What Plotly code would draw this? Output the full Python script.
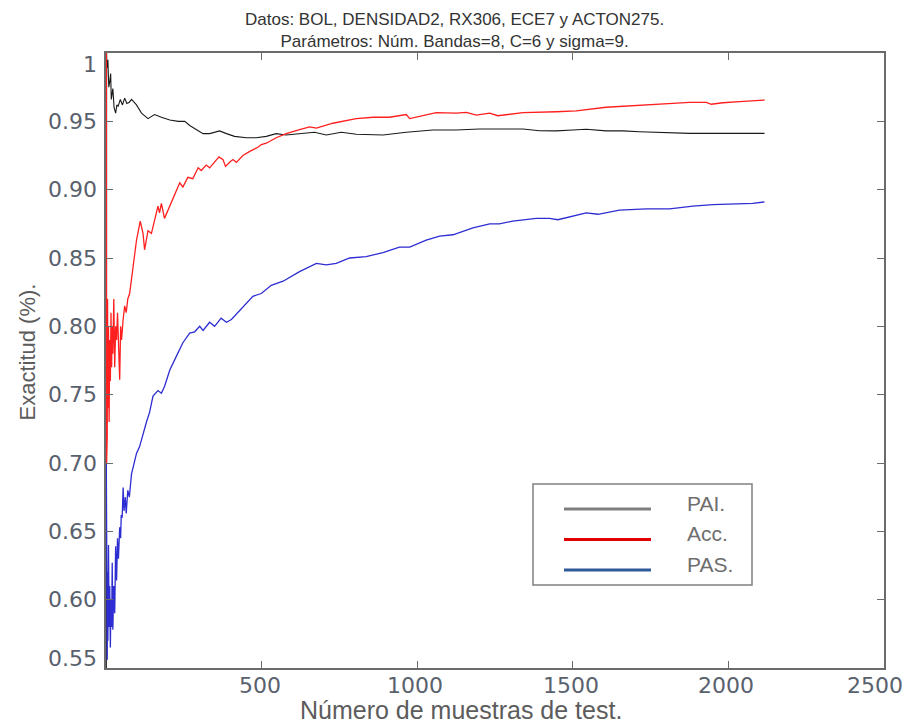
import plotly.graph_objects as go

# Running accuracy curves over the number of test samples
pai_points = [(1, 0.50), (2, 1.0), (3, 0.989), (6, 0.995), (9, 0.975), (12, 0.979), (15, 0.985),
              (17, 0.966), (22, 0.974), (26, 0.960), (31, 0.956), (35, 0.962), (39, 0.961),
              (46, 0.966), (53, 0.962), (60, 0.967), (67, 0.963), (75, 0.964), (82, 0.966),
              (98, 0.962), (114, 0.956), (135, 0.952), (156, 0.955), (178, 0.953), (205, 0.951),
              (232, 0.950), (253, 0.950), (269, 0.947), (290, 0.944), (312, 0.941), (333, 0.941),
              (365, 0.943), (387, 0.941), (413, 0.939), (451, 0.938), (483, 0.938), (515, 0.939),
              (547, 0.941), (579, 0.940), (622, 0.941), (670, 0.942), (708, 0.940), (756, 0.942),
              (804, 0.9405), (890, 0.940), (965, 0.942), (1050, 0.9437), (1125, 0.9437),
              (1200, 0.9444), (1275, 0.9444), (1340, 0.9444), (1393, 0.9431), (1447, 0.943),
              (1500, 0.9437), (1543, 0.9442), (1607, 0.943), (1661, 0.943), (1714, 0.9424),
              (1789, 0.9417), (1875, 0.9412), (1982, 0.9412), (2116, 0.9412)]

acc_points = [(1, 1.0), (2, 0.70), (3, 0.78), (4, 0.72), (5, 0.82), (6, 0.74), (8, 0.80), (10, 0.73),
              (12, 0.79), (14, 0.76), (16, 0.81), (18, 0.77), (20, 0.80), (22, 0.78), (25, 0.82),
              (28, 0.77), (31, 0.80), (34, 0.79), (37, 0.81), (40, 0.79), (44, 0.761), (47, 0.80),
              (50, 0.79), (55, 0.805), (60, 0.815), (65, 0.81), (70, 0.82), (76, 0.824), (82, 0.834),
              (87, 0.846), (98, 0.863), (110, 0.877), (119, 0.868), (124, 0.856), (135, 0.870),
              (146, 0.868), (156, 0.878), (167, 0.888), (172, 0.883), (178, 0.890), (188, 0.879),
              (205, 0.888), (221, 0.897), (237, 0.905), (247, 0.902), (263, 0.909), (279, 0.908),
              (296, 0.916), (306, 0.914), (322, 0.918), (333, 0.916), (349, 0.920), (363, 0.924),
              (376, 0.922), (384, 0.917), (397, 0.920), (408, 0.922), (419, 0.920), (440, 0.925),
              (462, 0.928), (488, 0.931), (499, 0.933), (515, 0.934), (547, 0.938), (579, 0.941),
              (622, 0.944), (654, 0.946), (676, 0.945), (729, 0.9486), (804, 0.952), (858, 0.953),
              (911, 0.953), (965, 0.955), (976, 0.952), (1061, 0.9563), (1125, 0.956),
              (1158, 0.9566), (1190, 0.9546), (1233, 0.956), (1259, 0.9541), (1340, 0.9563),
              (1447, 0.957), (1511, 0.9576), (1607, 0.9603), (1714, 0.962), (1821, 0.9632),
              (1875, 0.9639), (1929, 0.9639), (1945, 0.9625), (1982, 0.9636), (2036, 0.9644),
              (2116, 0.9656)]

pas_points = [(1, 0.70), (2, 0.60), (3, 0.66), (4, 0.556), (5, 0.62), (6, 0.57), (8, 0.64), (10, 0.58),
              (12, 0.61), (14, 0.565), (16, 0.60), (18, 0.58), (20, 0.627), (22, 0.578), (25, 0.61),
              (28, 0.59), (31, 0.639), (34, 0.614), (37, 0.645), (40, 0.63), (44, 0.653), (47, 0.645),
              (49, 0.662), (52, 0.66), (55, 0.682), (58, 0.665), (62, 0.675), (65, 0.663), (70, 0.68),
              (75, 0.675), (82, 0.692), (90, 0.70), (98, 0.707), (108, 0.712), (119, 0.722),
              (130, 0.730), (140, 0.737), (151, 0.749), (167, 0.753), (178, 0.751), (188, 0.756),
              (205, 0.768), (226, 0.778), (247, 0.788), (269, 0.795), (285, 0.796), (301, 0.800),
              (312, 0.797), (333, 0.803), (349, 0.800), (370, 0.806), (387, 0.803), (403, 0.805),
              (440, 0.814), (472, 0.822), (499, 0.824), (531, 0.830), (569, 0.833), (622, 0.840),
              (676, 0.846), (708, 0.845), (740, 0.846), (783, 0.850), (836, 0.851), (890, 0.854),
              (943, 0.858), (976, 0.858), (1029, 0.863), (1072, 0.866), (1115, 0.867), (1179, 0.872),
              (1233, 0.875), (1264, 0.875), (1307, 0.877), (1382, 0.879), (1425, 0.879),
              (1452, 0.878), (1543, 0.883), (1581, 0.882), (1650, 0.885), (1736, 0.886),
              (1811, 0.886), (1886, 0.888), (1950, 0.889), (2036, 0.890), (2078, 0.890),
              (2116, 0.891)]

series_names = ["PAI.", "Acc.", "PAS."]
line_colors = ["#1a1a1a", "#ff1f1f", "#2d2dd2"]
legend_colors = ["#7f7f7f", "#e00000", "#2f5a9a"]

x_ticks = [500, 1000, 1500, 2000, 2500]
x_tick_labels = ["500", "1000", "1500", "2000", "2500"]
y_ticks = [1.0, 0.95, 0.90, 0.85, 0.80, 0.75, 0.70, 0.65, 0.60, 0.55]
y_tick_labels = ["1", "0.95", "0.90", "0.85", "0.80", "0.75", "0.70", "0.65", "0.60", "0.55"]

title_lines = ["Datos: BOL, DENSIDAD2, RX306, ECE7 y ACTON275.",
               "Parámetros: Núm. Bandas=8, C=6 y sigma=9."]
x_title = "Número de muestras de test."
y_title = "Exactitud (%)."

fig = go.Figure()
for name, pts, col, w in zip(series_names, [pai_points, acc_points, pas_points], line_colors,
                             [1.1, 1.3, 1.3]):
    fig.add_trace(go.Scatter(
        x=[p[0] for p in pts], y=[p[1] for p in pts], mode="lines", name=name,
        line=dict(color=col, width=w), showlegend=False, hoverinfo="skip"))

axis_col = "#6b6b6b"
tick_font = dict(family="DejaVu Sans", size=22, color="#59616d")

fig.update_xaxes(range=[0, 2500], tickvals=x_ticks, showticklabels=False,
                 ticks="inside", ticklen=7, tickcolor=axis_col, tickwidth=1.2,
                 showline=True, linecolor=axis_col, linewidth=1.5, mirror="ticks",
                 showgrid=False, zeroline=False)
fig.update_yaxes(range=[0.55, 1.0], tickvals=y_ticks, showticklabels=False,
                 ticks="inside", ticklen=7, tickcolor=axis_col, tickwidth=1.2,
                 showline=True, linecolor=axis_col, linewidth=1.5, mirror="ticks",
                 showgrid=False, zeroline=False)

annotations = []
# y tick labels; the end labels sit just inside the axis limits
for v, t in zip(y_ticks, y_tick_labels):
    shift = -11 if v == 1.0 else (10 if v == 0.55 else 0)
    annotations.append(dict(x=0, xref="paper", xshift=-7, y=v, yref="y", yshift=shift,
                            text=t, showarrow=False, xanchor="right", yanchor="middle",
                            font=tick_font))
# x tick labels; the last one is pulled in from the right edge
for v, t in zip(x_ticks, x_tick_labels):
    annotations.append(dict(x=v, xref="x", xshift=(-9 if v == 2500 else -2), y=0, yref="paper",
                            yshift=-17, text=t, showarrow=False, xanchor="center",
                            yanchor="middle", font=tick_font))

annotations.append(dict(x=(454 - 106) / 778, xref="paper", y=1, yref="paper", yshift=23,
                        text="<br>".join(title_lines), showarrow=False,
                        xanchor="center", yanchor="middle",
                        font=dict(family="Liberation Sans", size=17, color="#333333")))
annotations.append(dict(x=(461 - 106) / 778, xref="paper", y=0, yref="paper", yshift=-42,
                        text=x_title, showarrow=False, xanchor="center", yanchor="middle",
                        font=dict(family="Liberation Sans", size=25, color="#5c5c5c")))
annotations.append(dict(x=0, xref="paper", xshift=-79, y=0.5, yref="paper", yshift=8,
                        text=y_title, showarrow=False, textangle=-90,
                        xanchor="center", yanchor="middle",
                        font=dict(family="Liberation Sans", size=22, color="#5c5c5c")))

# Legend box drawn in paper coordinates
W, H = 778.0, 615.0
def px_x(p):
    return (p - 106) / W
def px_y(p):
    return (668 - p) / H

shapes = [dict(type="rect", xref="paper", yref="paper",
               x0=px_x(533), x1=px_x(752), y0=px_y(585), y1=px_y(484),
               line=dict(color="#808080", width=1.5), fillcolor="white", layer="above")]
for i, (name, col) in enumerate(zip(series_names, legend_colors)):
    ly = 509 + i * 30.5
    shapes.append(dict(type="line", xref="paper", yref="paper",
                       x0=px_x(564), x1=px_x(651), y0=px_y(ly), y1=px_y(ly),
                       line=dict(color=col, width=3), layer="above"))
    annotations.append(dict(x=px_x(685), xref="paper", y=px_y(ly - 6), yref="paper",
                            text=name, showarrow=False, xanchor="left", yanchor="middle",
                            font=dict(family="Liberation Sans", size=21, color="#6e6e6e")))

fig.update_layout(width=907, height=724,
                  margin=dict(l=106, r=23, t=53, b=56),
                  paper_bgcolor="white", plot_bgcolor="white",
                  annotations=annotations, shapes=shapes, showlegend=False)

fig.write_html("out.html")
